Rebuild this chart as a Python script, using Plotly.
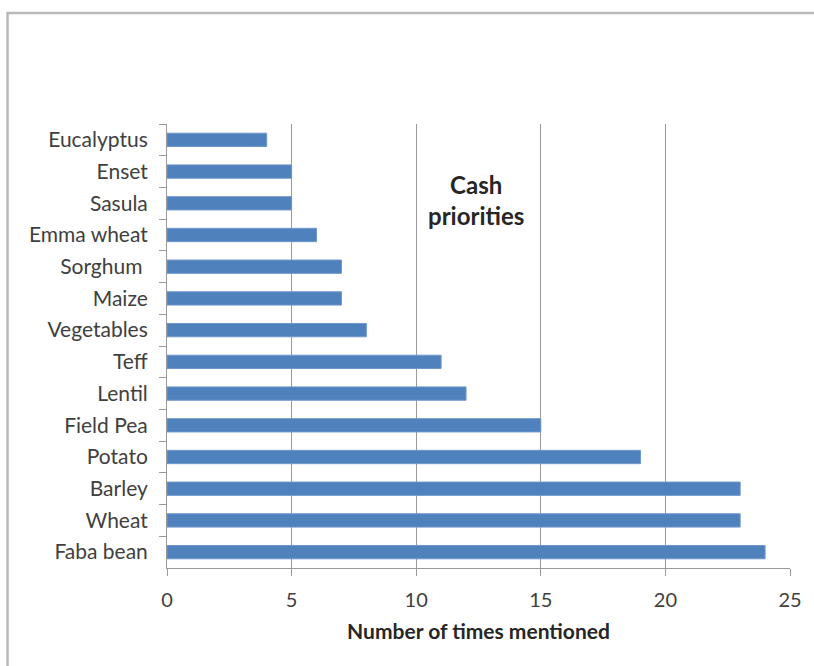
import plotly.graph_objects as go

# Crops listed from top to bottom of the chart
crops = ["Eucalyptus", "Enset", "Sasula", "Emma wheat", "Sorghum\u00a0", "Maize",
         "Vegetables", "Teff", "Lentil", "Field Pea", "Potato", "Barley",
         "Wheat", "Faba bean"]
mentions = [4, 5, 5, 6, 7, 7, 8, 11, 12, 15, 19, 23, 23, 24]
x_ticks = [0, 5, 10, 15, 20, 25]

FONT = "Lato, Calibri, 'Open Sans', sans-serif"
TEXT = "#404040"
GRID = "#9a9a9a"

fig = go.Figure(
    go.Bar(
        x=mentions,
        y=crops,
        orientation="h",
        width=0.42,
        marker=dict(color="#4F81BD", line=dict(color="#6f97cc", width=1)),
        hoverinfo="x+y",
    )
)

fig.update_layout(
    width=814,
    height=666,
    margin=dict(l=167, r=22, t=124, b=98),
    paper_bgcolor="white",
    plot_bgcolor="white",
    showlegend=False,
    font=dict(family=FONT, size=20, color=TEXT),
    xaxis=dict(
        range=[0, 25],
        tickvals=x_ticks,
        showgrid=True,
        gridcolor=GRID,
        gridwidth=1,
        zeroline=False,
        showline=True,
        linecolor=GRID,
        linewidth=1,
        ticks="outside",
        ticklen=7,
        tickcolor=GRID,
        ticklabelstandoff=7,
        tickfont=dict(family=FONT, size=20, color=TEXT),
        title=dict(
            text="<b>Number of times mentioned</b>",
            font=dict(family=FONT, size=21, color="#262626"),
            standoff=14,
        ),
    ),
    yaxis=dict(
        categoryorder="array",
        categoryarray=crops,
        autorange="reversed",
        showgrid=False,
        zeroline=False,
        showline=True,
        linecolor=GRID,
        linewidth=1,
        ticks="outside",
        tickson="boundaries",
        ticklen=7,
        tickcolor=GRID,
        ticklabelstandoff=14,
        tickfont=dict(family=FONT, size=21, color=TEXT),
    ),
    annotations=[
        dict(
            text="<b>Cash<br>priorities</b>",
            x=12.4,
            y=0.901,
            xref="x",
            yref="paper",
            showarrow=False,
            align="center",
            font=dict(family=FONT, size=24, color="#262626"),
        )
    ],
    shapes=[
        # outer chart frame
        dict(
            type="rect",
            xref="paper",
            yref="paper",
            x0=(7 - 167) / 625,
            x1=(840 - 167) / 625,
            y0=(568 - 700) / 444,
            y1=(568 - 13) / 444,
            line=dict(color="#b9b9b9", width=2.5),
            fillcolor="rgba(0,0,0,0)",
            layer="below",
        )
    ],
)

fig.write_html("out.html")
